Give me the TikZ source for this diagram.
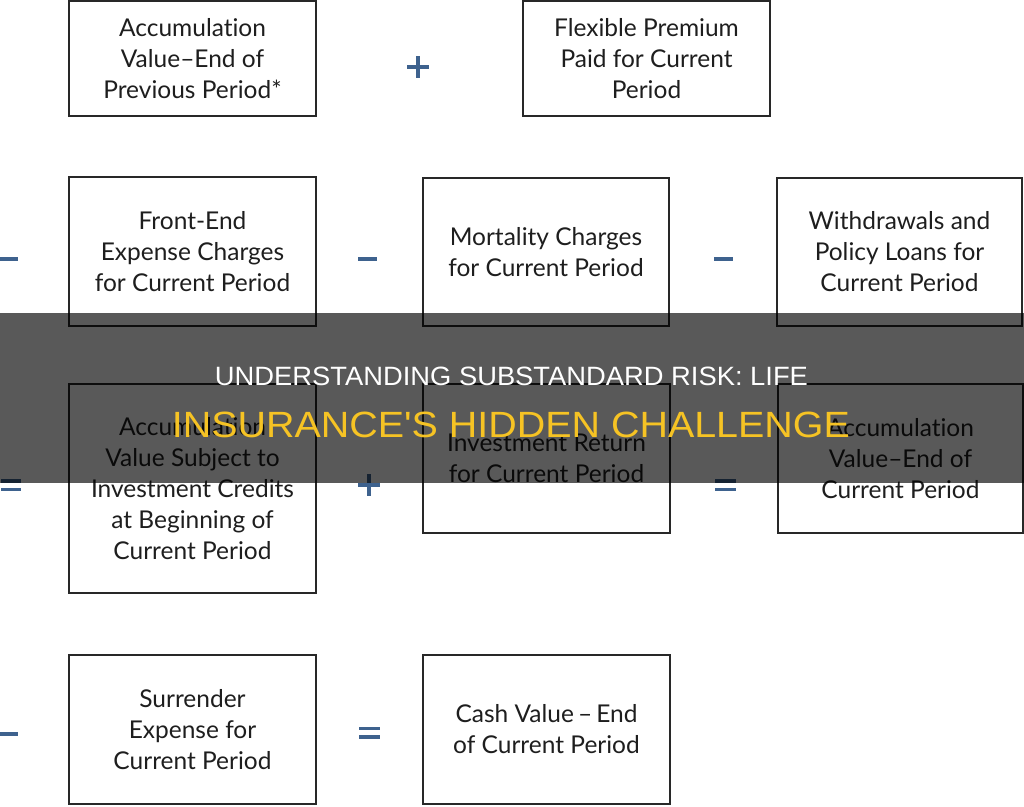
\documentclass[tikz,border=0pt]{standalone}
\usepackage{fontspec}
\setmainfont{Lato}[Ligatures={NoCommon}]
\newfontfamily\titlefont{Liberation Sans}
\usepackage{graphicx}
\definecolor{boxline}{RGB}{40,40,40}
\definecolor{boxtext}{RGB}{30,30,30}
\definecolor{opblue}{RGB}{62,98,142}
\definecolor{titleyellow}{RGB}{246,195,36}
\tikzset{
  box/.style={draw=boxline, line width=2.4pt, inner sep=0pt, outer sep=0pt,
    align=center, text=boxtext, font=\fontsize{24.5}{31}\selectfont},
  opline/.style={draw=opblue, line width=3.6pt},
  banner/.style={inner sep=0pt, outer sep=0pt}
}
\begin{document}
\begin{tikzpicture}[x=1pt,y=-1pt]
\useasboundingbox (0,0) rectangle (1024,806);
\fill[white] (0,0) rectangle (1024,806);
% boxes
\node[box, minimum width=247pt, minimum height=115pt] (b1) at (192.5,58.5) {Accumulation\\Value–End of\\Previous Period*};
\node[box, minimum width=247pt, minimum height=115pt] (b2) at (646.5,58.5) {Flexible Premium\\Paid for Current\\Period};
\node[box, minimum width=247pt, minimum height=149pt] (b3) at (192.5,251.5) {Front-End\\Expense Charges\\for Current Period};
\node[box, minimum width=246pt, minimum height=148pt] (b4) at (546,252) {Mortality Charges\\for Current Period};
\node[box, minimum width=245pt, minimum height=148pt] (b5) at (899.5,252) {Withdrawals and\\Policy Loans for\\Current Period};
\node[box, minimum width=247pt, minimum height=209pt] (b6) at (192.5,488.5) {Accumulation\\Value Subject to\\Investment Credits\\at Beginning of\\Current Period};
\node[box, minimum width=247pt, minimum height=149pt] (b7) at (546.5,458.5) {Investment Return\\for Current Period};
\node[box, minimum width=245pt, minimum height=149pt] (b8) at (900.5,458.5) {Accumulation\\Value–End of\\Current Period};
\node[box, minimum width=247pt, minimum height=149pt] (b9) at (192.5,729.5) {Surrender\\Expense for\\Current Period};
\node[box, minimum width=247pt, minimum height=149pt] (b10) at (546.5,729.5) {Cash Value\,–\,End\\of Current Period};
% operators
% row 1 plus
\draw[opline] (407,67) -- (429,67);
\draw[opline] (418,56) -- (418,78);
% row 2 minus
\draw[opline] (0,259) -- (18,259);
\draw[opline] (358,259) -- (377,259);
\draw[opline] (714,259) -- (733,259);
% row 3
\draw[opline] (1,481) -- (21,481);
\draw[opline] (1,489.5) -- (21,489.5);
\draw[opline] (358,485) -- (380,485);
\draw[opline] (369,474) -- (369,496);
\draw[opline] (715,481) -- (736,481);
\draw[opline] (715,489.5) -- (736,489.5);
% row 4
\draw[opline] (0,734) -- (18,734);
\draw[opline] (359,728.5) -- (380,728.5);
\draw[opline] (359,737) -- (380,737);
% banner
\fill[black, opacity=0.65] (0,313) rectangle (1024,483);
\node[banner, text=white] (t1) at (511.5,376) {\resizebox{593pt}{18.5pt}{\titlefont UNDERSTANDING SUBSTANDARD RISK: LIFE}};
\node[banner, text=titleyellow] (t2) at (511,424.5) {\resizebox{678pt}{25.5pt}{\titlefont INSURANCE'S HIDDEN CHALLENGE}};
\end{tikzpicture}
\end{document}
